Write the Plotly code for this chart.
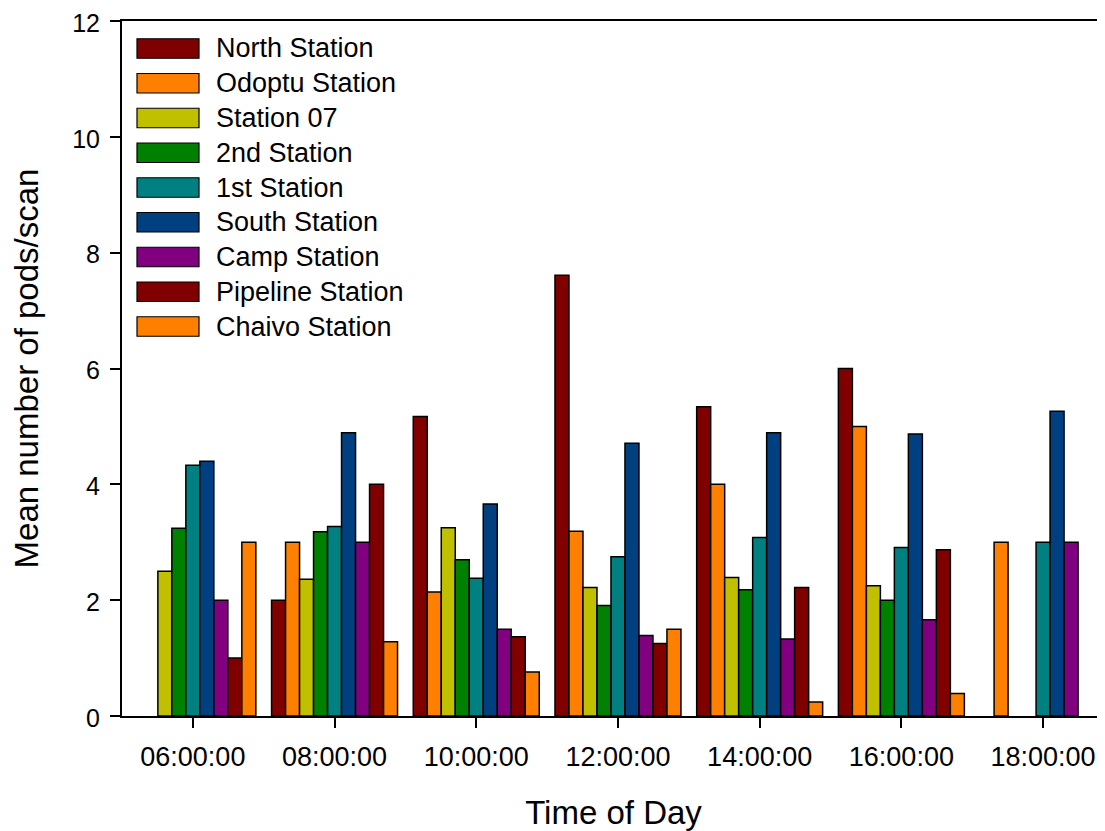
import plotly.graph_objects as go

# ---- data ----
times = ["06:00:00", "08:00:00", "10:00:00", "12:00:00", "14:00:00", "16:00:00", "18:00:00"]

north_station    = [None, 2.00, 5.17, 7.61, 5.34, 6.00, None]
odoptu_station   = [None, 3.00, 2.14, 3.19, 4.00, 5.00, 3.00]
station_07       = [2.50, 2.36, 3.25, 2.22, 2.39, 2.25, None]
second_station   = [3.24, 3.18, 2.70, 1.91, 2.18, 2.00, None]
first_station    = [4.33, 3.27, 2.38, 2.75, 3.08, 2.91, 3.00]
south_station    = [4.40, 4.89, 3.66, 4.71, 4.89, 4.87, 5.26]
camp_station     = [2.00, 3.00, 1.50, 1.39, 1.33, 1.66, 3.00]
pipeline_station = [1.00, 4.00, 1.37, 1.25, 2.22, 2.87, None]
chaivo_station   = [3.00, 1.28, 0.76, 1.50, 0.24, 0.39, None]

series_names = ["North Station", "Odoptu Station", "Station 07", "2nd Station",
                "1st Station", "South Station", "Camp Station", "Pipeline Station",
                "Chaivo Station"]
series_values = [north_station, odoptu_station, station_07, second_station,
                 first_station, south_station, camp_station, pipeline_station,
                 chaivo_station]
series_colors = ["#800000", "#FF8000", "#C0C000", "#008000", "#008080",
                 "#004080", "#800080", "#800000", "#FF8000"]

y_ticks = [0, 2, 4, 6, 8, 10, 12]

FONT = "Liberation Sans, Arial, sans-serif"
OFF = 8                      # page body margin in the browser
W, H = 1105 - OFF, 831 - OFF
# plot area in screen pixels
PX0, PX1, PY0, PY1 = 122, 1105, 21, 716
L, R, T, B = PX0 - OFF, (W + OFF) - PX1, PY0 - OFF, (H + OFF) - PY1

fig = go.Figure()
for name, vals, col in zip(series_names, series_values, series_colors):
    fig.add_trace(go.Bar(
        x=times, y=vals, name=name,
        marker=dict(color=col, line=dict(color="black", width=1.5)),
        showlegend=False,
    ))

# ---- hand-drawn legend (large swatches like the original) ----
pw = PX1 - PX0
ph = PY1 - PY0
row0, row_step = 48.5, 34.75
sw_x0, sw_x1, sw_h = 137, 199, 19.5
txt_x = 214
for i, (name, col) in enumerate(zip(series_names, series_colors)):
    cy = row0 + i * row_step
    fig.add_shape(
        type="rect", xref="paper", yref="paper",
        x0=(sw_x0 - PX0) / pw, x1=(sw_x1 - PX0) / pw,
        y0=(PY1 - (cy + sw_h / 2)) / ph, y1=(PY1 - (cy - sw_h / 2)) / ph,
        fillcolor=col, line=dict(color="black", width=1.2), layer="above",
    )
    fig.add_annotation(
        xref="paper", yref="paper",
        x=(txt_x - PX0) / pw, y=(PY1 - cy) / ph,
        text=name, showarrow=False, xanchor="left", yanchor="middle",
        font=dict(family=FONT, size=27, color="black"),
    )

fig.update_layout(
    width=W, height=H,
    margin=dict(l=L, r=R, t=T, b=B, pad=0, autoexpand=False),
    paper_bgcolor="white", plot_bgcolor="white",
    barmode="group", bargap=0.111, bargroupgap=0,
    font=dict(family=FONT, size=27, color="black"),
)
fig.update_xaxes(
    type="category", range=[-0.5, 6.437], automargin=False,
    showline=True, linecolor="black", linewidth=2, mirror=True,
    ticks="outside", ticklen=10, tickwidth=2, tickcolor="black",
    ticklabelstandoff=6, ticklabeloverflow="allow",
    showgrid=False, zeroline=False,
    tickfont=dict(family=FONT, size=27),
    title=dict(text="Time of Day", font=dict(family=FONT, size=33), standoff=31),
)
fig.update_yaxes(
    range=[0, 12], tickvals=y_ticks, automargin=False,
    showline=True, linecolor="black", linewidth=2,
    ticks="outside", ticklen=10, tickwidth=2, tickcolor="black",
    ticklabelstandoff=5, ticklabelshift=2, ticklabeloverflow="allow",
    showgrid=False, zeroline=False,
    tickfont=dict(family=FONT, size=25),
    title=dict(text="Mean number of pods/scan", font=dict(family=FONT, size=33), standoff=24),
)

fig.write_html("out.html")
